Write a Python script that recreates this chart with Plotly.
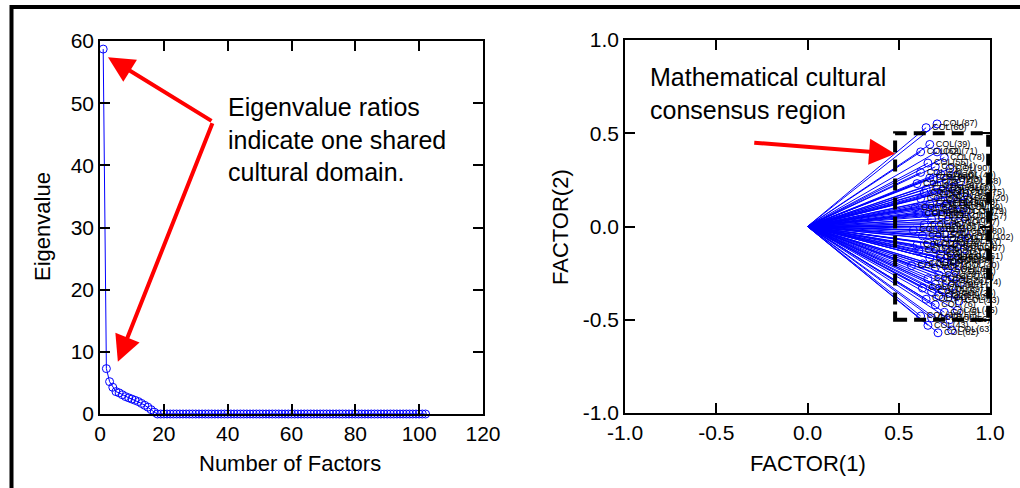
import plotly.graph_objects as go

# ---------------- data ----------------
factor_num = list(range(1, 103))
eigen_nonzero = [58.7, 7.3, 5.2, 4.3, 3.6, 3.4, 3.1, 2.8, 2.6, 2.4, 2.2, 2.0, 1.7, 1.4, 1.1, 0.7, 0.3]
eigenvalues = eigen_nonzero + [0.0] * (len(factor_num) - len(eigen_nonzero))

col_ids = [87, 60, 39, 62, 71, 78, 55, 14, 90, 24, 8, 49, 97, 3, 58, 41, 19, 66, 2, 36,
           75, 11, 52, 93, 27, 68, 15, 44, 99, 6, 31, 84, 21, 57, 73, 10, 47, 95, 35, 64,
           1, 80, 26, 50, 18, 91, 37, 70, 9, 54, 85, 22, 77, 12, 61, 98, 34, 4, 69, 40,
           81, 16, 88, 33, 29, 48, 59, 23, 74, 30, 17, 7, 89, 51, 25, 65, 42, 94, 13, 76,
           45, 5, 38, 100, 56, 43, 63, 82, 20, 28, 32, 46, 53, 67, 72, 79, 83, 86, 92, 96,
           101, 102]
factor1 = [0.71, 0.65, 0.67, 0.62, 0.71, 0.75, 0.66, 0.70, 0.78, 0.62, 0.73, 0.81, 0.67, 0.76, 0.84, 0.60, 0.71, 0.79, 0.65, 0.74,
           0.86, 0.69, 0.78, 0.62, 0.73, 0.82, 0.67, 0.76, 0.85, 0.70, 0.80, 0.61, 0.74, 0.87, 0.68, 0.77, 0.83, 0.64, 0.72, 0.80,
           0.69, 0.86, 0.75, 0.63, 0.79, 0.71, 0.84, 0.66, 0.76, 0.82, 0.70, 0.61, 0.78, 0.73, 0.85, 0.67, 0.80, 0.75, 0.63, 0.83,
           0.70, 0.77, 0.79, 0.57, 0.72, 0.80, 0.66, 0.76, 0.84, 0.70, 0.79, 0.63, 0.74, 0.68, 0.81, 0.72, 0.77, 0.65, 0.83, 0.70,
           0.82, 0.75, 0.62, 0.68, 0.78, 0.66, 0.79, 0.715, 0.88, 0.64, 0.81, 0.69, 0.59, 0.86, 0.60, 0.87, 0.73, 0.65, 0.81, 0.76,
           0.58, 0.88]
factor2 = [0.55, 0.53, 0.44, 0.40, 0.40, 0.37, 0.34, 0.32, 0.31, 0.29, 0.28, 0.27, 0.26, 0.25, 0.24, 0.23, 0.22, 0.21, 0.20, 0.19,
           0.18, 0.17, 0.16, 0.15, 0.14, 0.13, 0.12, 0.11, 0.10, 0.09, 0.08, 0.07, 0.06, 0.05, 0.04, 0.03, 0.02, 0.01, 0.00, -0.01,
           -0.02, -0.03, -0.04, -0.05, -0.06, -0.07, -0.08, -0.09, -0.10, -0.11, -0.12, -0.13, -0.14, -0.15, -0.16, -0.17, -0.18, -0.19, -0.20, -0.21,
           -0.22, -0.23, -0.185, -0.21, -0.26, -0.27, -0.28, -0.29, -0.30, -0.31, -0.32, -0.33, -0.34, -0.35, -0.36, -0.37, -0.38, -0.39, -0.40, -0.42,
           -0.45, -0.46, -0.48, -0.49, -0.50, -0.53, -0.555, -0.57, 0.15, 0.18, 0.20, 0.26, 0.10, -0.12, -0.10, 0.08, -0.17, 0.07, -0.24, 0.12,
           -0.02, -0.06]
col_labels = ["COL(%d)" % c for c in col_ids]

x1_ticks = [0, 20, 40, 60, 80, 100, 120]
y1_ticks = [0, 10, 20, 30, 40, 50, 60]
f_ticks = [-1.0, -0.5, 0.0, 0.5, 1.0]
f_tick_text = ["-1.0", "-0.5", "0.0", "0.5", "1.0"]

# ---------------- figure ----------------
FONT = "Liberation Sans, Arial, sans-serif"
BLUE = "#0000ff"

fig = go.Figure()

fig.add_trace(go.Scatter(
    x=factor_num, y=eigenvalues, mode="lines+markers",
    line=dict(color=BLUE, width=1),
    marker=dict(symbol="circle-open", size=8, color=BLUE, line=dict(width=1, color=BLUE)),
    xaxis="x", yaxis="y", cliponaxis=False, showlegend=False, hoverinfo="skip"))

# loading vectors from origin
vx, vy = [], []
for a, b in zip(factor1, factor2):
    vx += [0, a, None]
    vy += [0, b, None]
fig.add_trace(go.Scatter(
    x=vx, y=vy, mode="lines", line=dict(color=BLUE, width=1),
    xaxis="x2", yaxis="y2", showlegend=False, hoverinfo="skip"))
fig.add_trace(go.Scatter(
    x=factor1, y=factor2, mode="markers+text", text=col_labels,
    textposition="middle right", textfont=dict(family=FONT, size=9, color="black"),
    marker=dict(symbol="circle-open", size=8, color=BLUE, line=dict(width=1, color=BLUE)),
    xaxis="x2", yaxis="y2", cliponaxis=False, showlegend=False, hoverinfo="skip"))

W, H = 1020, 488
def px(x):
    return x / W
def py(y):
    return 1 - y / H

axis_common = dict(showline=True, linecolor="black", linewidth=1.5, mirror="ticks",
                   ticks="inside", ticklen=10, tickwidth=1.5, tickcolor="black",
                   showgrid=False, zeroline=False, automargin=False,
                   tickfont=dict(family=FONT, size=21, color="black"))

fig.update_layout(
    width=W, height=H, margin=dict(l=0, r=0, t=0, b=0, pad=0), autosize=False,
    paper_bgcolor="white", plot_bgcolor="white",
    font=dict(family=FONT, color="black"),
    xaxis=dict(domain=[px(100), px(483)], range=[0, 120], tickvals=x1_ticks, anchor="y", **axis_common),
    yaxis=dict(domain=[py(414), py(41)], range=[0, 60], tickvals=y1_ticks, anchor="x", **axis_common),
    xaxis2=dict(domain=[px(625), px(990)], range=[-1, 1], tickvals=f_ticks, ticktext=f_tick_text,
                anchor="y2", **axis_common),
    yaxis2=dict(domain=[py(413), py(40)], range=[-1, 1], tickvals=f_ticks, ticktext=f_tick_text,
                anchor="x2", **axis_common),
)

# axis titles
titles = [
    ("Number of Factors", 290, 463, 0),
    ("Eigenvalue", 42, 227, -90),
    ("FACTOR(1)", 808, 463, 0),
    ("FACTOR(2)", 560, 227, -90),
]
for t, x, y, ang in titles:
    fig.add_annotation(xref="paper", yref="paper", x=px(x), y=py(y), xanchor="center", yanchor="middle",
                       text=t, textangle=ang, showarrow=False, font=dict(family=FONT, size=22, color="black"))

# outer thick frame
fig.add_shape(type="rect", xref="paper", yref="paper",
              x0=px(11.5), x1=1.02, y0=-0.05, y1=py(7),
              line=dict(color="black", width=4), fillcolor="rgba(0,0,0,0)", layer="above")

# dashed consensus region
fig.add_shape(type="rect", xref="x2", yref="y2", x0=0.48, x1=0.99, y0=-0.5, y1=0.5,
              line=dict(color="black", width=4, dash="12px,7px"), layer="above")

# text annotations
fig.add_annotation(xref="paper", yref="paper", x=px(226), y=py(91), xanchor="left", yanchor="top",
                   text="Eigenvalue ratios<br>indicate one shared<br>cultural domain.", align="left",
                   showarrow=False, font=dict(family=FONT, size=25, color="black"))
fig.add_annotation(xref="paper", yref="paper", x=px(648), y=py(61), xanchor="left", yanchor="top",
                   text="Mathematical cultural<br>consensus region", align="left",
                   showarrow=False, font=dict(family=FONT, size=25, color="black"))

RED = "#ff0000"
arrows = [
    ("x", "y", 2.5, 57.4, 35.4, 47.0),
    ("x", "y", 5.6, 8.4, 35.4, 47.0),
    ("x2", "y2", 0.48, 0.39, -0.30, 0.45),
]
for xr, yr, hx, hy, tx, ty in arrows:
    fig.add_annotation(xref=xr, yref=yr, x=hx, y=hy, axref=xr, ayref=yr, ax=tx, ay=ty,
                       text="", showarrow=True, arrowhead=2, arrowsize=1.3, arrowwidth=4,
                       arrowcolor=RED, standoff=0, startstandoff=0)

fig.write_html("out.html", config={"displayModeBar": False},
               post_script="document.body.style.margin='0';document.body.style.overflow='hidden';")
